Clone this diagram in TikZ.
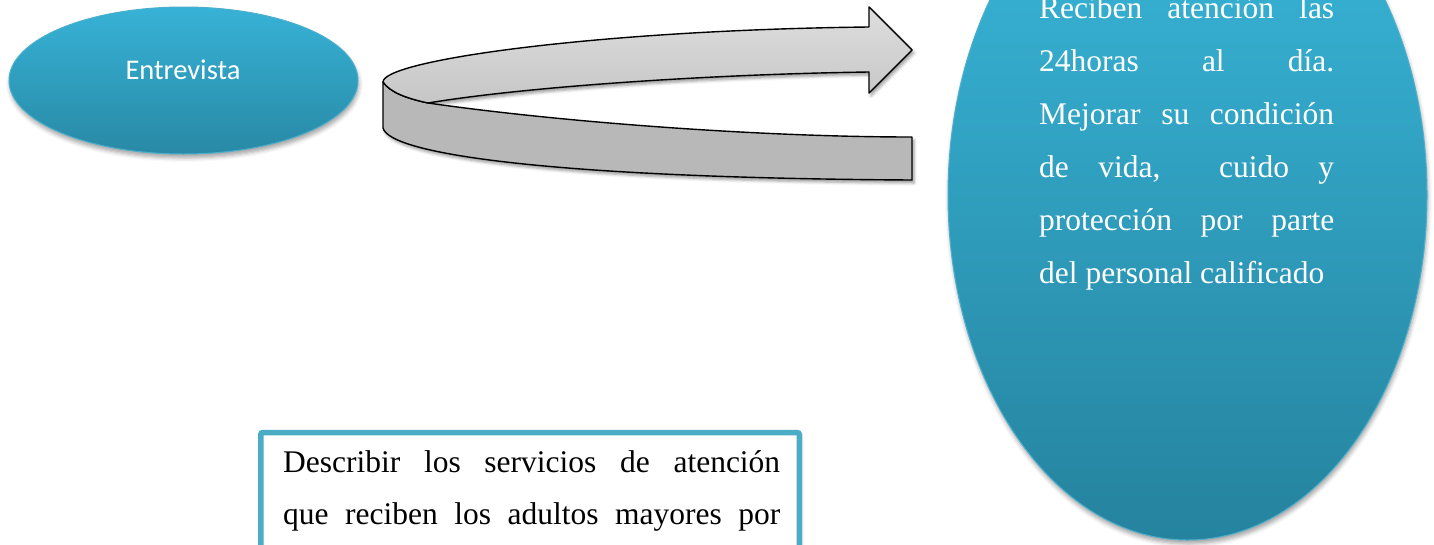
\documentclass[tikz,border=0pt]{standalone}
\usepackage{fontspec}
\setmainfont{Liberation Serif}
\newfontfamily\calib{Carlito}
\usetikzlibrary{shapes.geometric,shadows.blur}
\definecolor{ovaltop}{RGB}{58,185,221}
\definecolor{ovalbot}{RGB}{37,131,158}
\definecolor{enttop}{RGB}{55,178,214}
\definecolor{entbot}{RGB}{40,137,165}
\definecolor{ovaledge}{RGB}{75,175,205}
\definecolor{boxteal}{RGB}{75,172,198}
\definecolor{facetop}{RGB}{222,222,222}
\definecolor{facebot}{RGB}{198,198,198}
\definecolor{bandgray}{RGB}{184,184,184}
\tikzset{
  softshadow/.style={blur shadow={shadow xshift=1pt, shadow yshift=-4pt, shadow blur radius=4pt, shadow opacity=35}},
  tealoval/.style={ellipse, inner sep=0pt, draw=ovaledge, line width=1pt, softshadow},
  serifline/.style={anchor=base west, inner sep=0pt, font=\fontsize{31.5}{36}\selectfont},
  arrowline/.style={draw=black, line width=1.4pt, line join=round},
}
\begin{document}
\begin{tikzpicture}[x=1pt,y=-1pt]
\useasboundingbox (0,0) rectangle (1434,544);
\begin{scope}
\clip (0,0) rectangle (1434,544);

% left oval
\node[tealoval, minimum width=349pt, minimum height=147pt, top color=enttop, bottom color=entbot] (entre) at (183.5,80.5) {};
\node[anchor=base, inner sep=0pt, text=white, font=\calib\fontsize{28.5}{34}\selectfont] (entretxt) at (183,79) {Entrevista};

% curved arrow shadow
\path[blur shadow={shadow xshift=2pt, shadow yshift=-3pt, shadow blur radius=3pt, shadow opacity=40}]
  (869,27) -- (869,7) -- (912,50) -- (869,93) -- (869,72)
  .. controls (720,74) and (530,86) .. (428,103)
  .. controls (560,122) and (760,137) .. (912,137) -- (912,180)
  .. controls (560,178) and (390,155) .. (383,128) -- (383,82)
  .. controls (383,60) and (600,30) .. (869,27) -- cycle;
% side band
\path[arrowline, fill=bandgray]
  (383,82) -- (383,128) .. controls (390,155) and (560,178) .. (912,180) -- (912,137)
  .. controls (760,137) and (560,122) .. (428,103)
  .. controls (405,98) and (390,92) .. (383,82) -- cycle;
% top face
\path[arrowline, top color=facetop, bottom color=facebot]
  (869,27) -- (869,7) -- (912,50) -- (869,93) -- (869,72)
  .. controls (720,74) and (530,86) .. (428,103)
  .. controls (405,98) and (390,92) .. (383,82)
  .. controls (383,60) and (600,30) .. (869,27) -- cycle;

% right oval
\node[tealoval, minimum width=479pt, minimum height=690pt, top color=ovaltop, bottom color=ovalbot] (oval) at (1187.5,195) {};
\begin{scope}[every node/.style={serifline, text=white}]
\node (r1) at (1039,18) {\makebox[295pt][s]{Reciben atención las}};
\node (r2) at (1039,71) {\makebox[295pt][s]{24horas al día.}};
\node (r3) at (1039,124) {\makebox[295pt][s]{Mejorar su condición}};
\node (r4) at (1039,177) {\makebox[295pt][s]{de vida,\ \ cuido y}};
\node (r5) at (1039,230) {\makebox[295pt][s]{protección por parte}};
\node (r6) at (1039,283) {del personal calificado};
\end{scope}

% bottom box
\node[rectangle, anchor=north, minimum width=538.5pt, minimum height=250pt, draw=boxteal, line width=5.5pt, fill=white, rounded corners=2pt, blur shadow={shadow xshift=2pt, shadow yshift=-2pt, shadow blur radius=3pt, shadow opacity=35}] (caja) at (530,429.75) {};
\node[serifline] (b1) at (283,472) {\makebox[497pt][s]{Describir los servicios de atención}};
\node[serifline] (b2) at (283,524) {\makebox[497pt][s]{que reciben los adultos mayores por}};
\end{scope}
\end{tikzpicture}
\end{document}
